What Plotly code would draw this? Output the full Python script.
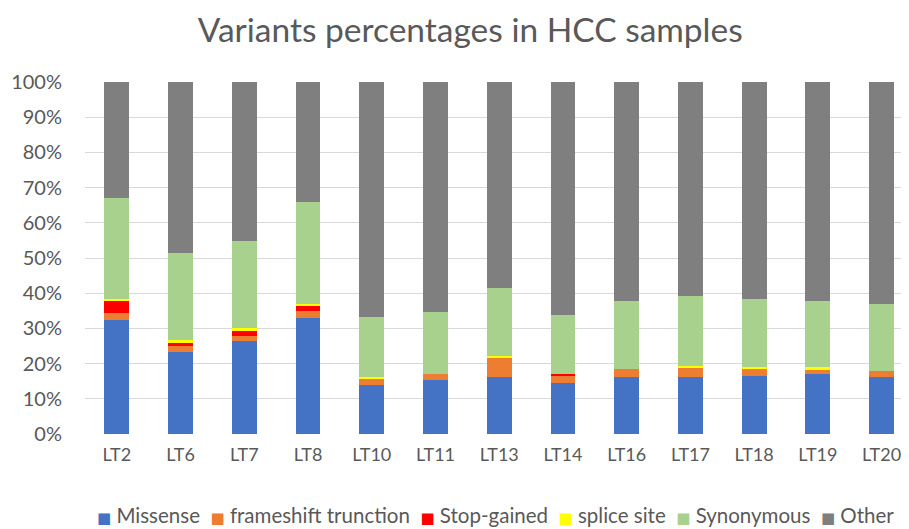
import plotly.graph_objects as go

samples = ["LT2", "LT6", "LT7", "LT8", "LT10", "LT11", "LT13", "LT14", "LT16", "LT17", "LT18", "LT19", "LT20"]
missense = [32.4, 23.4, 26.5, 32.9, 13.9, 15.3, 16.2, 14.4, 16.2, 16.2, 16.6, 17.0, 16.2]
frameshift = [1.9, 1.7, 1.3, 2.1, 1.9, 1.7, 5.3, 2.1, 2.3, 2.6, 1.9, 1.4, 1.8]
stop_gained = [3.6, 1.0, 1.5, 1.4, 0.0, 0.0, 0.0, 0.5, 0.0, 0.0, 0.0, 0.0, 0.0]
splice_site = [0.5, 0.5, 0.8, 0.5, 0.5, 0.0, 0.7, 0.0, 0.0, 0.5, 0.5, 0.5, 0.0]
synonymous = [28.6, 24.8, 24.7, 29.0, 17.0, 17.8, 19.3, 16.8, 19.4, 20.0, 19.3, 19.0, 19.0]
other = [33.0, 48.6, 45.2, 34.1, 66.7, 65.2, 58.5, 66.2, 62.1, 60.7, 61.7, 62.1, 63.0]

series_names = ["Missense", "frameshift trunction", "Stop-gained", "splice site", "Synonymous", "Other"]
series_values = [missense, frameshift, stop_gained, splice_site, synonymous, other]
series_colors = ["#4472C4", "#ED7D31", "#FF0000", "#FFFF00", "#A9D18E", "#7F7F7F"]

FONT = "Lato"
fig = go.Figure()
for name, vals, color in zip(series_names, series_values, series_colors):
    fig.add_trace(go.Bar(
        x=samples, y=[v / 100 for v in vals], name=name,
        marker=dict(color=color, line=dict(width=0)),
        showlegend=False,
    ))

# Legend drawn as a single line of text with coloured squares (compact, like the original)
NB = "\u00a0"
legend_parts = []
for name, color in zip(series_names, series_colors):
    legend_parts.append(
        f'<span style="color:{color};font-family:DejaVu Sans;font-size:15px">■</span>{NB}{name}'
    )
legend_text = (NB * 2).join(legend_parts)

fig.add_annotation(
    text=legend_text, xref="paper", yref="paper", x=0.4976, y=-0.23,
    xanchor="center", yanchor="middle", showarrow=False,
    font=dict(family=FONT, size=20.5, color="#595959"),
)

fig.update_layout(
    barmode="stack",
    bargap=0.61,
    width=901, height=521,
    margin=dict(l=77, r=0, t=74, b=95),
    paper_bgcolor="white", plot_bgcolor="white",
    title=dict(text="Variants percentages in HCC samples", x=0.513, xanchor="center",
               y=0.958, yanchor="middle",
               font=dict(family=FONT, size=33.5, color="#595959")),
    font=dict(family=FONT, color="#595959"),
    xaxis=dict(range=[-0.5, 12.43], showgrid=False, showline=False, ticks="",
               tickfont=dict(size=18, color="#595959"), ticklabelstandoff=8),
    yaxis=dict(range=[0, 1], dtick=0.1, tickformat=".0%", showgrid=True,
               gridcolor="#D9D9D9", gridwidth=1, zeroline=False, showline=False,
               tickfont=dict(size=20, color="#595959"), ticks="",
               ticklabelstandoff=22),
    showlegend=False,
)
fig.write_html("out.html")
